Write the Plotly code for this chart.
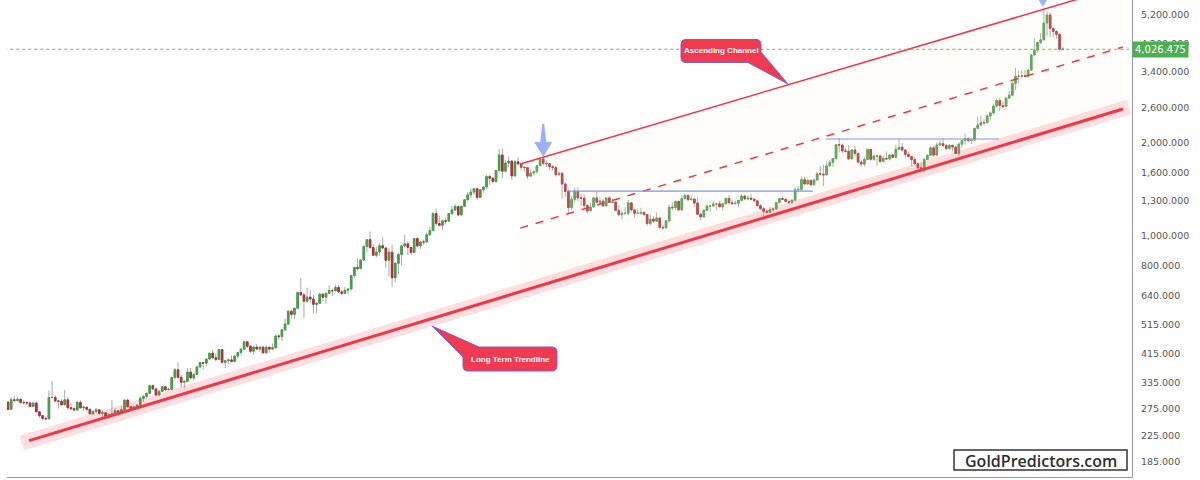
import math
import pandas as pd
import plotly.graph_objects as go

# ---------------- data (monthly candles, Aug 1998 onwards) ----------------
first_open = 288.9

closes = [
    273.4, 293.9, 292.3, 294.7, 288.0,
    287.4, 287.0, 279.5, 286.6, 268.6, 261.0, 255.6, 254.8, 299.0, 299.1, 291.4, 290.3,
    283.3, 293.7, 276.8, 275.1, 272.3, 288.2, 276.8, 278.1, 273.6, 264.5, 269.1, 272.7,
    265.6, 266.7, 257.7, 263.2, 265.0, 270.6, 265.9, 273.0, 293.1, 279.0, 275.5, 279.0,
    282.3, 296.9, 301.4, 308.2, 326.6, 318.5, 304.7, 312.8, 323.7, 316.9, 317.7, 347.2,
    367.5, 347.5, 334.9, 336.8, 361.4, 346.0, 354.8, 375.6, 388.0, 386.3, 398.4, 416.3,
    402.2, 396.7, 427.3, 388.5, 393.3, 395.8, 391.4, 407.3, 418.0, 428.8, 452.9, 438.0,
    422.2, 435.5, 428.9, 435.7, 417.3, 435.0, 429.0, 433.3, 473.3, 470.8, 495.7, 517.1,
    568.8, 556.0, 582.0, 654.5, 643.0, 613.5, 632.5, 623.5, 599.3, 603.8, 646.7, 632.0,
    650.5, 664.2, 663.0, 679.4, 657.5, 650.5, 665.5, 672.0, 743.0, 789.5, 783.5, 834.0,
    923.3, 971.5, 916.2, 864.5, 885.8, 928.3, 912.5, 833.0, 884.5, 730.8, 814.5, 869.8,
    927.3, 942.0, 916.5, 883.3, 979.5, 927.4, 954.8, 954.5, 1007.7, 1040.0, 1180.0, 1096.2,
    1081.1, 1118.5, 1115.5, 1180.3, 1212.5, 1245.5, 1169.0, 1246.0, 1307.5, 1357.6, 1386.3, 1421.1,
    1332.0, 1411.0, 1439.0, 1556.0, 1536.5, 1500.4, 1628.3, 1828.5, 1620.0, 1722.0, 1746.4, 1563.7,
    1737.0, 1711.3, 1668.0, 1663.4, 1561.0, 1598.5, 1614.3, 1687.6, 1773.3, 1718.8, 1712.9, 1675.4,
    1663.6, 1578.9, 1595.7, 1472.3, 1392.6, 1234.6, 1313.0, 1395.1, 1327.0, 1323.6, 1253.3, 1204.5,
    1239.8, 1326.4, 1283.8, 1295.6, 1250.2, 1327.1, 1282.1, 1287.2, 1208.4, 1171.6, 1182.6, 1183.1,
    1278.5, 1212.6, 1183.2, 1184.1, 1190.0, 1172.4, 1095.7, 1132.8, 1115.1, 1142.2, 1064.8, 1061.0,
    1118.0, 1238.0, 1233.0, 1292.0, 1214.0, 1320.0, 1351.0, 1309.0, 1316.0, 1277.0, 1174.0, 1151.0,
    1210.0, 1249.0, 1249.0, 1268.0, 1269.0, 1242.0, 1269.0, 1322.0, 1280.0, 1271.0, 1275.0, 1303.0,
    1345.0, 1318.0, 1325.0, 1315.0, 1298.0, 1252.0, 1224.0, 1201.0, 1191.0, 1214.0, 1222.0, 1282.0,
    1321.0, 1313.0, 1292.0, 1284.0, 1305.0, 1409.0, 1414.0, 1520.0, 1472.0, 1513.0, 1464.0, 1517.0,
    1589.0, 1585.0, 1577.0, 1686.0, 1730.0, 1781.0, 1975.0, 1968.0, 1886.0, 1879.0, 1776.0, 1898.0,
    1848.0, 1734.0, 1708.0, 1769.0, 1906.0, 1770.0, 1814.0, 1814.0, 1743.0, 1783.0, 1774.0, 1829.0,
    1796.0, 1909.0, 1937.0, 1897.0, 1837.0, 1807.0, 1766.0, 1711.0, 1661.0, 1633.0, 1769.0, 1824.0,
    1928.0, 1827.0, 1969.0, 1990.0, 1963.0, 1919.0, 1965.0, 1940.0, 1849.0, 1983.0, 2036.0, 2063.0,
    2039.0, 2044.0, 2230.0, 2286.0, 2327.0, 2326.0, 2447.0, 2503.0, 2634.0, 2744.0, 2643.0, 2625.0,
    2798.0, 2858.0, 3124.0, 3288.0, 3289.0, 3303.0, 3289.0, 3448.0, 3858.0, 4002.0, 4239.0, 4320.0,
    4900.0, 5200.0, 4700.0, 4600.0, 4500.0, 4030.0, 4026.475,
]

highs = [
    290, 300, 303, 300, 298,
    293, 291, 290, 289, 290, 269, 262, 259, 315, 338, 304, 293,
    295, 316, 300, 287, 278, 292, 293, 281, 278, 275, 272, 276,
    273, 272, 268, 266, 293, 276, 272, 281, 294, 295, 280, 280,
    284, 302, 304, 310, 328, 329, 322, 316, 326, 325, 322, 349,
    372, 389, 354, 341, 372, 372, 359, 377, 391, 390, 399, 417,
    427, 416, 429, 428, 396, 400, 410, 410, 419, 431, 456, 456,
    443, 438, 446, 438, 436, 441, 433, 448, 474, 479, 497, 540,
    575, 574, 585, 655, 730, 652, 679, 665, 642, 609, 650, 650,
    655, 690, 675, 694, 693, 668, 682, 678, 746, 790, 845, 840,
    931, 975, 1033, 938, 921, 945, 988, 916, 912, 934, 823, 881,
    933, 1007, 962, 916, 983, 992, 960, 972, 1024, 1072, 1195, 1227,
    1162, 1127, 1145, 1181, 1249, 1266, 1245, 1251, 1313, 1388, 1424, 1431,
    1424, 1413, 1448, 1576, 1578, 1552, 1632, 1912, 1921, 1756, 1804, 1764,
    1764, 1792, 1720, 1678, 1669, 1640, 1627, 1692, 1788, 1796, 1755, 1724,
    1694, 1685, 1617, 1605, 1487, 1417, 1348, 1433, 1434, 1362, 1362, 1267,
    1280, 1332, 1392, 1331, 1315, 1332, 1345, 1323, 1287, 1255, 1207, 1239,
    1307, 1284, 1224, 1224, 1232, 1205, 1174, 1170, 1157, 1191, 1142, 1088,
    1123, 1263, 1282, 1304, 1303, 1358, 1375, 1367, 1352, 1326, 1337, 1190,
    1220, 1264, 1261, 1295, 1270, 1296, 1272, 1331, 1357, 1306, 1299, 1307,
    1366, 1361, 1356, 1365, 1317, 1309, 1266, 1238, 1214, 1243, 1237, 1284,
    1326, 1346, 1324, 1310, 1306, 1439, 1453, 1555, 1557, 1518, 1516, 1535,
    1611, 1689, 1704, 1748, 1765, 1789, 1984, 2075, 1992, 1933, 1966, 1906,
    1959, 1872, 1758, 1798, 1913, 1917, 1834, 1833, 1834, 1814, 1877, 1831,
    1853, 1974, 2070, 1998, 1910, 1880, 1815, 1808, 1735, 1730, 1786, 1833,
    1949, 1959, 2009, 2049, 2079, 1985, 1987, 1949, 1953, 2009, 2052, 2146,
    2088, 2065, 2236, 2432, 2450, 2388, 2483, 2531, 2685, 2790, 2801, 2726,
    2817, 2956, 3149, 3500, 3435, 3452, 3439, 3453, 3872, 4381, 4245, 4550,
    5500, 5350, 5300, 4750, 4650, 4550, 4100,
]

lows = [
    271, 272, 288, 289, 285,
    284, 282, 278, 278, 267, 257, 252, 252, 254, 296, 288, 275,
    280, 281, 274, 272, 270, 271, 275, 270, 269, 263, 263, 267,
    262, 255, 256, 254, 262, 263, 264, 264, 270, 277, 272, 273,
    276, 281, 289, 299, 307, 315, 301, 302, 312, 313, 315, 317,
    343, 344, 322, 320, 336, 342, 340, 353, 371, 369, 378, 397,
    399, 391, 396, 385, 372, 384, 388, 388, 400, 410, 426, 432,
    417, 412, 426, 421, 414, 414, 418, 428, 433, 460, 456, 490,
    514, 539, 537, 580, 636, 542, 605, 607, 560, 560, 606, 613,
    603, 648, 636, 660, 654, 641, 647, 648, 669, 728, 773, 781,
    831, 883, 906, 862, 850, 860, 910, 786, 736, 681, 705, 751,
    802, 917, 865, 866, 880, 915, 905, 932, 951, 1003, 1040, 1076,
    1075, 1045, 1088, 1113, 1166, 1201, 1155, 1157, 1242, 1307, 1329, 1360,
    1308, 1329, 1381, 1420, 1462, 1478, 1483, 1612, 1535, 1604, 1667, 1523,
    1562, 1688, 1627, 1613, 1527, 1551, 1564, 1587, 1684, 1692, 1672, 1635,
    1626, 1555, 1562, 1321, 1338, 1180, 1207, 1282, 1292, 1251, 1226, 1182,
    1202, 1238, 1277, 1268, 1240, 1240, 1281, 1273, 1205, 1160, 1131, 1170,
    1167, 1197, 1142, 1175, 1170, 1162, 1077, 1081, 1099, 1112, 1052, 1046,
    1058, 1107, 1208, 1208, 1200, 1200, 1310, 1300, 1302, 1241, 1171, 1122,
    1146, 1200, 1195, 1243, 1214, 1236, 1205, 1267, 1271, 1261, 1264, 1236,
    1302, 1307, 1303, 1302, 1282, 1246, 1211, 1160, 1180, 1182, 1196, 1221,
    1275, 1309, 1281, 1266, 1268, 1305, 1382, 1400, 1459, 1459, 1445, 1454,
    1517, 1563, 1451, 1568, 1670, 1671, 1757, 1863, 1849, 1860, 1764, 1776,
    1802, 1717, 1677, 1678, 1767, 1750, 1750, 1688, 1722, 1746, 1759, 1753,
    1780, 1781, 1890, 1872, 1786, 1805, 1681, 1709, 1615, 1617, 1616, 1765,
    1823, 1805, 1810, 1950, 1933, 1893, 1903, 1885, 1846, 1810, 1932, 1973,
    2002, 1984, 2030, 2228, 2277, 2286, 2318, 2364, 2472, 2604, 2536, 2583,
    2614, 2773, 2833, 2970, 3120, 3246, 3268, 3268, 3430, 3887, 3930, 4180,
    4300, 4450, 4400, 4400, 4350, 3980, 3990,
]

months = pd.date_range("1998-08-01", periods=len(closes), freq="MS").strftime("%b %Y").tolist()
opens = [first_open] + closes[:-1]
idx = list(range(len(closes)))

last_price = 4026.475

# drawing anchors (candle index, price)
trend_x, trend_y = [6.7, 354.1], [216.5, 2578.0]
band_x, band_y = [4.4, 356.0], [212.7, 2616.0]
chan_x = [162.7, 354.1]
chan_up_y = [1709.0, 6466.0]
chan_mid_y = [1059.0, 4095.0]
chan_low_y = [658.0, 2578.0]
res1_x, res1_y = [177.7, 255.6], 1396.0
res2_x, res2_y = [259.7, 314.7], 2060.0
arrow_pts = [(170.0, 1800.0), (328.7, 5521.0)]

tick_vals = [185, 225, 275, 335, 415, 515, 640, 800, 1000, 1300, 1600, 2000, 2600, 3400, 4200, 5200]
tick_text = [f"{v:,.3f}" for v in tick_vals]

UP, DOWN, WICK = "#43a047", "#b3303b", "#a8a8a8"
RED = "#f23645"

fig = go.Figure()

# channel fill
fig.add_trace(go.Scatter(
    x=[chan_x[0], chan_x[1], chan_x[1], chan_x[0]],
    y=[chan_up_y[0], chan_up_y[1], chan_low_y[1], chan_low_y[0]],
    fill="toself", fillcolor="rgba(255,240,210,0.14)", line=dict(width=0),
    mode="lines", hoverinfo="skip", showlegend=False))

# pink band under trendline
fig.add_trace(go.Scatter(x=band_x, y=band_y, mode="lines",
                         line=dict(color="rgba(242,54,69,0.16)", width=15),
                         hoverinfo="skip", showlegend=False))

# candles: wicks in grey, bodies coloured
fig.add_trace(go.Candlestick(
    x=idx, open=opens, high=highs, low=lows, close=closes,
    increasing=dict(line=dict(color=WICK, width=1), fillcolor=WICK),
    decreasing=dict(line=dict(color=WICK, width=1), fillcolor=WICK),
    hoverinfo="skip", showlegend=False))
body_hi = [max(o, c) for o, c in zip(opens, closes)]
body_lo = [min(o, c) for o, c in zip(opens, closes)]
fig.add_trace(go.Candlestick(
    x=idx, open=opens, high=body_hi, low=body_lo, close=closes, text=months,
    increasing=dict(line=dict(color=UP, width=1), fillcolor=UP),
    decreasing=dict(line=dict(color=DOWN, width=1), fillcolor=DOWN),
    showlegend=False))

# trendline, channel lines
fig.add_trace(go.Scatter(x=trend_x, y=trend_y, mode="lines",
                         line=dict(color=RED, width=3), hoverinfo="skip", showlegend=False))
fig.add_trace(go.Scatter(x=chan_x, y=chan_up_y, mode="lines",
                         line=dict(color=RED, width=1.5), hoverinfo="skip", showlegend=False))
fig.add_trace(go.Scatter(x=chan_x, y=chan_mid_y, mode="lines",
                         line=dict(color=RED, width=1.5, dash="8px,8px"), hoverinfo="skip", showlegend=False))

# horizontal resistance lines
for rx, ry in [(res1_x, res1_y), (res2_x, res2_y)]:
    fig.add_trace(go.Scatter(x=rx, y=[ry, ry], mode="lines",
                             line=dict(color="#7b95ee", width=1.2), hoverinfo="skip", showlegend=False))

# last price dotted line
fig.add_trace(go.Scatter(x=[-5, 400], y=[last_price, last_price], mode="lines",
                         line=dict(color="#66bb6a", width=1, dash="dot"), hoverinfo="skip", showlegend=False))

# ---------------- layout helpers (pixel -> paper) ----------------
PL, PR, PT, PB = 7, 1132, 0, 477


def P(xp, yp):
    return f"{(xp - PL) / (PR - PL):.5f},{1 - (yp - PT) / (PB - PT):.5f}"


def callout1():
    r = 5
    x0, x1, y0, y1 = 681, 761, 39.5, 62.5
    return (f"M {P(x0 + r, y0)} L {P(x1 - r, y0)} Q {P(x1, y0)} {P(x1, y0 + r)} "
            f"L {P(x1, 52)} L {P(788, 84)} L {P(748, y1)} L {P(x0 + r, y1)} "
            f"Q {P(x0, y1)} {P(x0, y1 - r)} L {P(x0, y0 + r)} Q {P(x0, y0)} {P(x0 + r, y0)} Z")


def callout2():
    r = 5
    x0, x1, y0, y1 = 463, 557, 347, 371
    return (f"M {P(479, y0)} L {P(x1 - r, y0)} Q {P(x1, y0)} {P(x1, y0 + r)} "
            f"L {P(x1, y1 - r)} Q {P(x1, y1)} {P(x1 - r, y1)} L {P(x0 + r, y1)} "
            f"Q {P(x0, y1)} {P(x0, y1 - r)} L {P(x0, 357)} L {P(432, 326)} Z")


arrow_path = "M 0,0 L -9,15 L -3,15 L -1,33 L 1,33 L 3,15 L 9,15 Z"

shapes = []
for ax_, ay_ in arrow_pts:
    shapes.append(dict(type="path", xref="x", yref="y", xsizemode="pixel", ysizemode="pixel",
                       xanchor=ax_, yanchor=ay_, path=arrow_path,
                       fillcolor="rgba(120,150,245,0.75)", line=dict(width=0)))
for pth in (callout1(), callout2()):
    shapes.append(dict(type="path", xref="paper", yref="paper", path=pth,
                       fillcolor="#ef3a4f", line=dict(color="#7b5fd9", width=1)))
shapes.append(dict(type="rect", xref="paper", yref="paper",
                   x0=(954 - PL) / (PR - PL), x1=(1127 - PL) / (PR - PL),
                   y0=1 - 470 / 477, y1=1 - 450 / 477,
                   fillcolor="white", line=dict(color="#333333", width=1.5)))


def pxx(xp):
    return (xp - PL) / (PR - PL)


def pyy(yp):
    return 1 - yp / 477


annotations = [
    dict(xref="paper", yref="paper", x=pxx(721), y=pyy(51), xanchor="center", yanchor="middle",
         text="<b>Ascending Channel</b>", showarrow=False,
         font=dict(family="Liberation Sans", size=8, color="white")),
    dict(xref="paper", yref="paper", x=pxx(510), y=pyy(359), xanchor="center", yanchor="middle",
         text="<b>Long Term Trendline</b>", showarrow=False,
         font=dict(family="Liberation Sans", size=8, color="white")),
    dict(xref="paper", yref="paper", x=pxx(1040.5), y=pyy(460.5), xanchor="center", yanchor="middle",
         text="GoldPredictors.com", showarrow=False,
         font=dict(family="Open Sans", size=16, color="#2e2e2e", weight=600)),
    dict(xref="paper", yref="y", x=1.0, y=math.log10(last_price), xanchor="left", yanchor="middle",
         text=f"{last_price:,.3f}", showarrow=False, bgcolor="#4caf50", borderpad=2,
         font=dict(family="DejaVu Sans", size=10, color="white")),
]

fig.update_layout(
    width=1200, height=480,
    margin=dict(l=PL, r=1200 - PR, t=PT, b=480 - PB),
    paper_bgcolor="white", plot_bgcolor="white",
    showlegend=False,
    shapes=shapes, annotations=annotations,
    xaxis=dict(range=[-0.32, 357.0], showgrid=False, zeroline=False, showticklabels=False,
               rangeslider=dict(visible=False), showline=True, linecolor="#999", linewidth=1,
               fixedrange=True),
    yaxis=dict(type="log", side="right", range=[2.2176, 3.7647], showgrid=False, zeroline=False,
               tickmode="array", tickvals=tick_vals, ticktext=tick_text, ticks="",
               ticklabelstandoff=6, tickfont=dict(family="DejaVu Sans", size=9.5, color="#555"),
               showline=True, linecolor="#999", linewidth=1),
)

fig.write_html("out.html")
